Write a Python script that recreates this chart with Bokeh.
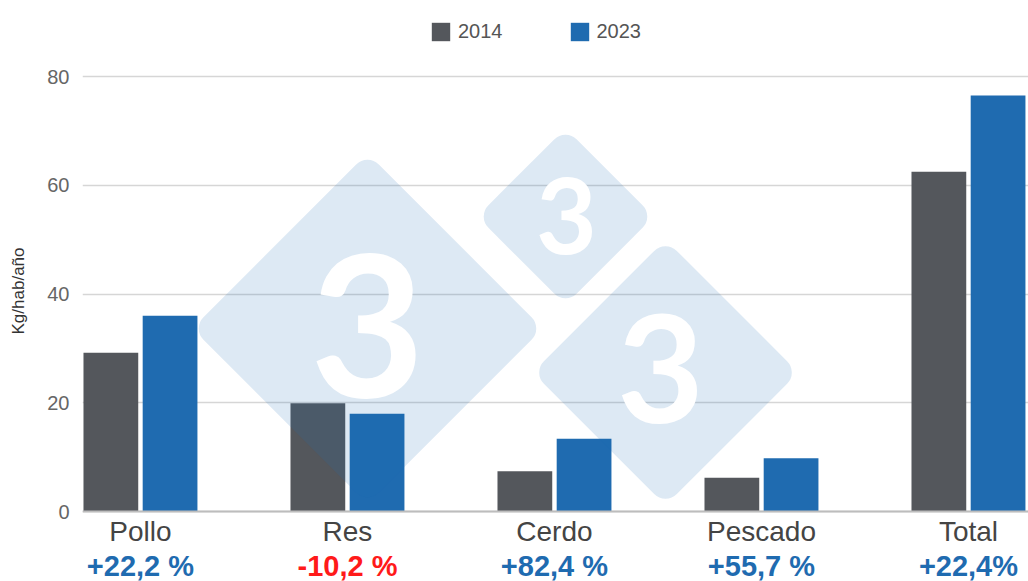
import math
from bokeh.plotting import figure
from bokeh.models import (ColumnDataSource, Range1d, LabelSet, Legend, LegendItem,
                          FixedTicker, Span)
from bokeh.transform import dodge
from bokeh.core.properties import value
from bokeh.embed import file_html
from bokeh.resources import INLINE

# ---- data ----
categories = ["Pollo", "Res", "Cerdo", "Pescado", "Total"]
years = ["2014", "2023"]
v2014 = [29.2, 19.9, 7.4, 6.2, 62.5]
v2023 = [36.0, 18.0, 13.4, 9.8, 76.5]
pct_labels = ["+22,2 %", "-10,2 %", "+82,4 %", "+55,7 %", "+22,4%"]
y_ticks = [0, 20, 40, 60, 80]
y_title = "Kg/hab/año"

# ---- styles ----
C2014 = "#54575c"
C2023 = "#1f6bb0"
CPOS = "#1f6bb0"
CNEG = "#ff1a1a"
FONT = "Liberation Sans"

idx = list(range(len(categories)))
pct_colors = [CNEG if s.startswith("-") else CPOS for s in pct_labels]

src = ColumnDataSource(dict(i=idx, cat=categories, y2014=v2014, y2023=v2023,
                            pct=pct_labels, pct_color=pct_colors,
                            cat_y=[-5.35] * len(categories),
                            pct_y=[-11.9] * len(categories)))

W, H = 1028, 581
FRAME_W = 946

p = figure(width=W, height=H, output_backend="svg", toolbar_location=None,
           x_axis_location=None,
           x_range=Range1d(-0.28, 4.29), y_range=Range1d(-12.87, 93.98),
           min_border_left=82, min_border_right=0, min_border_top=0, min_border_bottom=0)
p.outline_line_color = None
p.background_fill_color = "white"
p.border_fill_color = "white"

bw = 0.2645
off = 0.143
r1 = p.vbar(x=dodge("i", -off), top="y2014", width=bw, source=src,
            fill_color=C2014, line_color=None)
r2 = p.vbar(x=dodge("i", off), top="y2023", width=bw, source=src,
            fill_color=C2023, line_color=None)

# y axis
yax = p.yaxis[0]
yax.ticker = FixedTicker(ticks=y_ticks)
yax.axis_line_color = None
yax.major_tick_line_color = None
yax.minor_tick_line_color = None
yax.major_label_text_font = FONT
yax.major_label_text_font_size = "20px"
yax.major_label_text_color = "#666666"
yax.major_label_standoff = 7
yax.axis_label = y_title
yax.axis_label_text_font = FONT
yax.axis_label_text_font_size = "17px"
yax.axis_label_text_font_style = "normal"
yax.axis_label_text_color = "#333333"
yax.axis_label_standoff = 16

p.xgrid.grid_line_color = None
p.ygrid.grid_line_color = "#d6d6d6"
p.ygrid.grid_line_width = 1.5

# baseline
p.add_layout(Span(location=0, dimension="width", line_color="#bdbdbd", line_width=2))

# category labels
cl = LabelSet(x="i", y="cat_y", text="cat", source=src, text_align="center",
              text_baseline="alphabetic", text_font=value(FONT), text_font_size="28px",
              text_color="#444444")
p.add_layout(cl)

# percent change labels
pl = LabelSet(x="i", y="pct_y", text="pct", source=src, text_align="center",
              text_baseline="alphabetic", text_font=value(FONT), text_font_size="29px",
              text_font_style="bold", text_color="pct_color")
p.add_layout(pl)

# legend
legend = Legend(items=[LegendItem(label=years[0], renderers=[r1]),
                       LegendItem(label=years[1], renderers=[r2])],
                orientation="horizontal", location=(347, 538),
                glyph_width=23, glyph_height=23, label_height=23, label_standoff=6,
                spacing=65, padding=0, margin=0,
                label_text_font=FONT, label_text_font_size="20px",
                label_text_color="#555555",
                border_line_color=None, background_fill_alpha=0)
p.add_layout(legend)

# ---- watermark (logo overlay, frame pixel coordinates from bottom-left) ----
p.extra_x_ranges = {"wx": Range1d(0, FRAME_W)}
p.extra_y_ranges = {"wy": Range1d(0, H)}
wm_x = [285, 483, 583]
wm_y = [253, 365, 209]
wm_side = [248, 125, 188]
dg_x = [285, 484, 578]
dg_y = [256, 366, 213]
dg_size = ["198px", "105px", "150px"]
wsrc = ColumnDataSource(dict(x=wm_x, y=wm_y, s=wm_side))
p.rect(x="x", y="y", width="s", height="s", width_units="screen", height_units="screen",
       angle=math.pi / 4, border_radius=16, source=wsrc, fill_color="#1e6eb4",
       fill_alpha=0.15, line_color=None, x_range_name="wx", y_range_name="wy",
       level="overlay")
for x, y, fs in zip(dg_x, dg_y, dg_size):
    p.text(x=[x], y=[y], text=["3"], text_align="center", text_baseline="middle",
           text_font=value("Lato"), text_font_style="bold", text_font_size=fs,
           text_color="white", x_range_name="wx", y_range_name="wy", level="overlay")

open("out.html", "w").write(file_html(p, INLINE))
